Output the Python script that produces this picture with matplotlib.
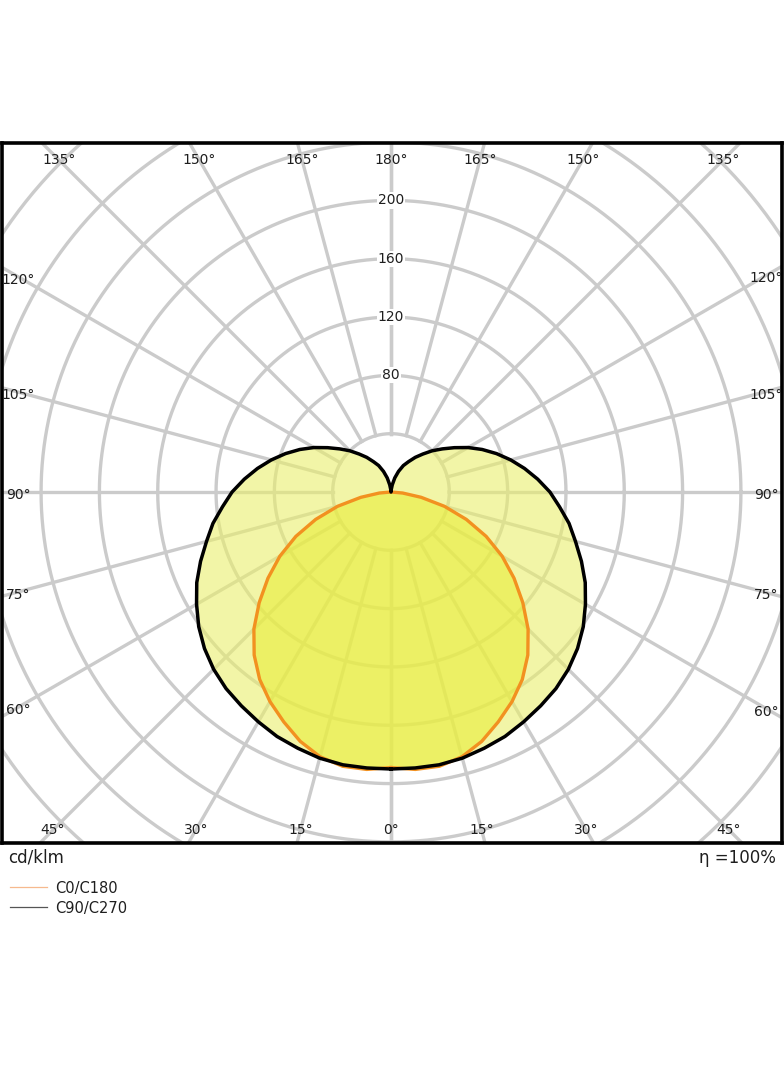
import numpy as np
import matplotlib.pyplot as plt
from matplotlib.lines import Line2D

# luminous intensity, cd/klm, gamma angle measured from nadir
gamma = np.arange(0, 185, 5)
c0_c180 = [189, 191, 191, 188, 182, 174, 166, 157, 146, 133, 118, 103, 88, 72, 55, 38, 21, 8, 0,
           0, 0, 0, 0, 0, 0, 0, 0, 0, 0, 0, 0, 0, 0, 0, 0, 0, 0]
c90_c270 = [190, 190, 190, 189, 187, 185, 182, 179, 176, 172, 167, 161, 154, 147, 139, 131, 124, 116, 109,
            101, 93, 85, 77, 69, 61, 53, 46, 40, 34, 29, 24, 20, 15, 10, 5, 1.5, 0]

ring_values = [40, 80, 120, 160, 200, 240, 280, 320, 360, 400]
ring_labels = [80, 120, 160, 200]
spoke_angles = np.arange(0, 181, 15)

# pixel geometry of the reference
PX = 1.458            # pixels per cd/klm
W, H = 784, 1066
cx, cy = 391, 492     # centre of the diagram in pixels
left, right, top, bottom = 2, 782, 143, 843

styles = {
    'grid': '#cbcbcb',
    'fill_c90': '#eaef6c',
    'fill_c0': '#e8ed39',
    'line_c0': '#f29120',
    'line_c90': 'black',
    'text': '#1e1e1e',
}

fig = plt.figure(figsize=(W / 100, H / 100), dpi=100)
ax = fig.add_axes([left / W, (H - bottom) / H, (right - left) / W, (bottom - top) / H])
ax.set_xlim((left - cx) / PX, (right - cx) / PX)
ax.set_ylim((cy - bottom) / PX, (cy - top) / PX)
ax.set_xticks([])
ax.set_yticks([])
for sp in ax.spines.values():
    sp.set_linewidth(2.6)
    sp.set_color('black')

# grid: rings
t = np.linspace(0, 2 * np.pi, 721)
for rv in ring_values:
    ax.plot(rv * np.cos(t), rv * np.sin(t), color=styles['grid'], lw=2.4, zorder=1)

# grid: spokes from the first ring outward
for g in spoke_angles:
    gr = np.radians(g)
    for s in (-1, 1):
        ax.plot([s * 40 * np.sin(gr), s * 420 * np.sin(gr)],
                [-40 * np.cos(gr), -420 * np.cos(gr)],
                color=styles['grid'], lw=2.4, zorder=1)


def closed_curve(vals):
    g = np.radians(gamma)
    r = np.asarray(vals, dtype=float)
    xr, yr = r * np.sin(g), -r * np.cos(g)
    x = np.concatenate([xr, -xr[::-1]])
    y = np.concatenate([yr, yr[::-1]])
    return x, y


x90, y90 = closed_curve(c90_c270)
x0, y0 = closed_curve(c0_c180)
ax.fill(x90, y90, color=styles['fill_c90'], alpha=0.6, lw=0, zorder=2)
ax.fill(x0, y0, color=styles['fill_c0'], alpha=0.6, lw=0, zorder=2)
ax.plot(x0, y0, color=styles['line_c0'], lw=2.4, zorder=3, solid_joinstyle='round')
ax.plot(x90, y90, color=styles['line_c90'], lw=2.5, zorder=4, solid_joinstyle='round')

# ring value labels on the upper vertical
for rv in ring_labels:
    ax.text(0, rv, str(rv), ha='center', va='center', fontsize=10, color=styles['text'],
            zorder=5, bbox=dict(boxstyle='square,pad=0.08', fc='white', ec='none'))

# angle labels near the frame
half_w = {'l': cx - left, 'r': right - cx, 't': cy - top, 'b': bottom - cy}
edge_off = {'l': 16, 'r': 16, 't': 17, 'b': 13}
side_drop = {'l': 3, 'r': 3, 't': 0, 'b': 0}
for g in spoke_angles:
    gr = np.radians(g)
    sides = (1,) if g in (0, 180) else (-1, 1)
    for s in sides:
        dx, dy = s * np.sin(gr), -np.cos(gr)
        hits = []
        if dx > 1e-9:
            hits.append((half_w['r'] / dx, 'r', dx))
        if dx < -1e-9:
            hits.append((half_w['l'] / -dx, 'l', -dx))
        if dy > 1e-9:
            hits.append((half_w['t'] / dy, 't', dy))
        if dy < -1e-9:
            hits.append((half_w['b'] / -dy, 'b', -dy))
        tt, edge, comp = min(hits)
        tt -= edge_off[edge] / comp
        ax.text(tt * dx / PX, (tt * dy - side_drop[edge]) / PX, f"{g}°", ha='center', va='center',
                fontsize=10, color=styles['text'], zorder=6, clip_on=True)

# texts under the frame
fig.text(8 / W, 1 - 858 / H, 'cd/klm', ha='left', va='center', fontsize=12, color=styles['text'])
fig.text(776 / W, 1 - 858 / H, 'η =100%', ha='right', va='center', fontsize=12, color=styles['text'])

# legend
legend_rows = [('C0/C180', '#f6b98e', 887), ('C90/C270', '#555555', 907)]
for label, col, ypx in legend_rows:
    fig.add_artist(Line2D([10 / W, 47 / W], [1 - ypx / H] * 2, color=col, lw=0.9))
    fig.text(55 / W, 1 - (ypx + 1) / H, label, ha='left', va='center', fontsize=10.5, color=styles['text'])

fig.savefig('out.png', dpi=100, facecolor='white')
